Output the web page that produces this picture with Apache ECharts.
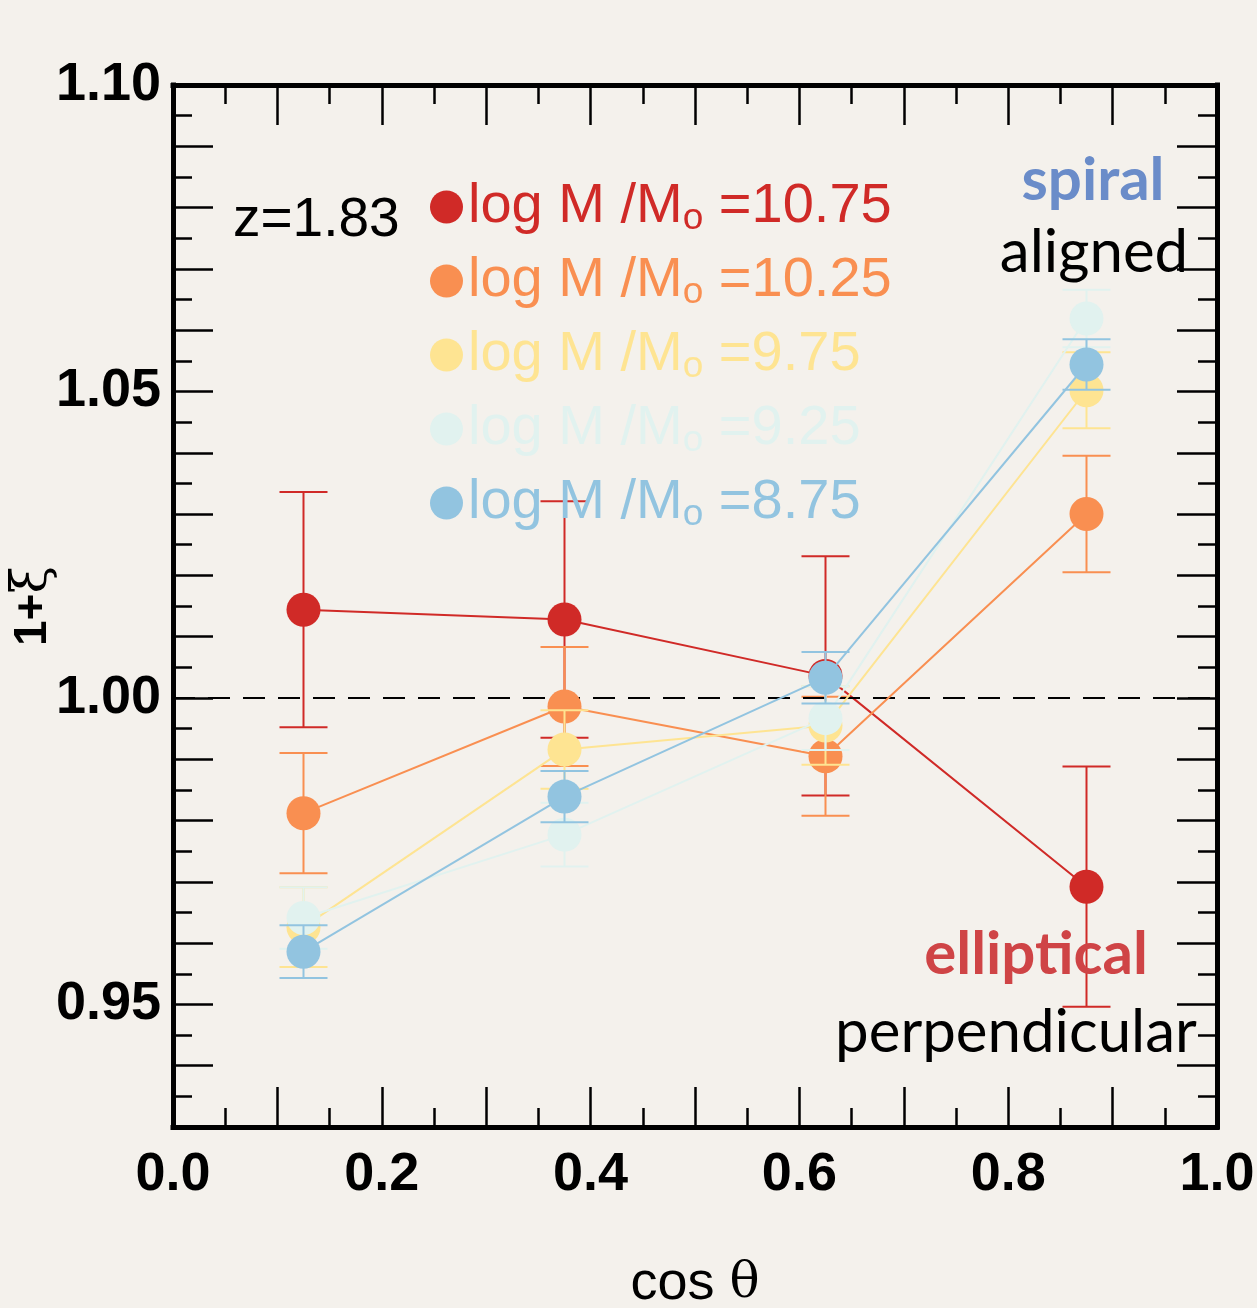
<!DOCTYPE html>
<html>
<head>
<meta charset="utf-8">
<script src="https://cdn.jsdelivr.net/npm/echarts@6/dist/echarts.min.js"></script>
<style>
  html, body { margin: 0; padding: 0; background: #f4f1ec; }
  #chart { width: 1257px; height: 1308px; }
</style>
</head>
<body>
<div id="chart"></div>
<script>
// cos(theta) bin centres
const cosTheta = [0.125, 0.375, 0.625, 0.875];

// stellar-mass bins (log M / M_sun)
const massBins = ['10.75', '10.25', '9.75', '9.25', '8.75'];

// 1 + xi per mass bin, with symmetric 1-sigma errors
const xi_1075 = [1.0144, 1.0128, 1.0036, 0.9692];
const err_1075 = [0.0192, 0.0193, 0.0195, 0.0196];
const xi_1025 = [0.9812, 0.9986, 0.9905, 1.0300];
const err_1025 = [0.0098, 0.0097, 0.0097, 0.0095];
const xi_975 = [0.9626, 0.9916, 0.9955, 1.0502];
const err_975 = [0.0065, 0.0064, 0.0064, 0.0062];
const xi_925 = [0.9641, 0.9777, 0.9967, 1.0619];
const err_925 = [0.0050, 0.0052, 0.0052, 0.0047];
const xi_875 = [0.9586, 0.9839, 1.0033, 1.0544];
const err_875 = [0.0043, 0.0042, 0.0042, 0.0041];

const xiSets = [xi_1075, xi_1025, xi_975, xi_925, xi_875];
const errSets = [err_1075, err_1025, err_975, err_925, err_875];
const colors = ['#d02a27', '#f98f51', '#fee492', '#e1f2ef', '#92c4e0'];

// axis ticks
const xMin = 0, xMax = 1, xStep = 0.1;
const yMin = 0.93, yMax = 1.10, yStep = 0.01;
const xLabelEvery = 0.2, yLabelEvery = 0.05;

const FONT_SANS = '"Liberation Sans", Arial, Helvetica, sans-serif';
const FONT_NOTE = 'Lato, "Open Sans", sans-serif';

const chart = echarts.init(document.getElementById('chart'), null, { renderer: 'canvas' });

function onStep(v, step) {
  const r = v / step;
  return Math.abs(r - Math.round(r)) < 1e-6;
}

function axisCommon(extra) {
  return Object.assign({
    type: 'value',
    axisLine: { show: true, onZero: false, lineStyle: { color: '#000', width: 5, cap: 'square' } },
    axisTick: { show: true, inside: true, length: 40, lineStyle: { color: '#000', width: 2.5 } },
    minorTick: { show: true, splitNumber: 2, length: 19, lineStyle: { color: '#000', width: 2.5 } },
    splitLine: { show: false },
    minorSplitLine: { show: false }
  }, extra);
}

const series = [];
massBins.forEach((bin, i) => {
  const name = 'log M /Mo =' + bin;
  const color = colors[i];
  // error bars
  series.push({
    type: 'custom',
    name: name + ' err',
    z: 2 + i * 2,
    silent: true,
    data: cosTheta.map((c, k) => [c, xiSets[i][k], errSets[i][k]]),
    renderItem: function (params, api) {
      const x = api.value(0), y = api.value(1), e = api.value(2);
      const top = api.coord([x, y + e]);
      const bot = api.coord([x, y - e]);
      const hw = 24;
      const st = { stroke: color, lineWidth: 2 };
      return {
        type: 'group',
        children: [
          { type: 'line', shape: { x1: top[0], y1: top[1], x2: bot[0], y2: bot[1] }, style: st },
          { type: 'line', shape: { x1: top[0] - hw, y1: top[1], x2: top[0] + hw, y2: top[1] }, style: st },
          { type: 'line', shape: { x1: bot[0] - hw, y1: bot[1], x2: bot[0] + hw, y2: bot[1] }, style: st }
        ]
      };
    }
  });
  // points + connecting line
  const s = {
    type: 'line',
    name: name,
    z: 3 + i * 2,
    data: cosTheta.map((c, k) => [c, xiSets[i][k]]),
    symbol: 'circle',
    symbolSize: 34,
    showAllSymbol: true,
    itemStyle: { color: color },
    lineStyle: { color: color, width: 2 },
    emphasis: { disabled: true },
    animation: false
  };
  if (i === 0) {
    s.markLine = {
      silent: true,
      symbol: 'none',
      label: { show: false },
      lineStyle: { color: '#000', width: 2, type: [22, 13] },
      data: [{ yAxis: 1.0 }]
    };
  }
  series.push(s);
});

const option = {
  backgroundColor: '#f4f1ec',
  animation: false,
  grid: { left: 173, right: 40, top: 85, bottom: 181, containLabel: false, outerBoundsMode: 'none' },
  legend: {
    orient: 'vertical',
    left: 430,
    top: 179,
    padding: 0,
    icon: 'circle',
    itemWidth: 33,
    itemHeight: 33,
    itemGap: 16,
    selectedMode: false,
    data: massBins.map((b, i) => ({ name: 'log M /Mo =' + b, textStyle: { color: colors[i] } })),
    formatter: function (n) {
      return '{a|log M /M}{s|o}{a| =' + n.split('=')[1] + '}';
    },
    textStyle: {
      fontFamily: FONT_SANS,
      fontSize: 56,
      padding: [0, 0, 0, 0],
      rich: {
        a: { fontFamily: FONT_SANS, fontSize: 56, lineHeight: 60 },
        s: { fontFamily: FONT_SANS, fontSize: 37, lineHeight: 36, verticalAlign: 'bottom' }
      }
    }
  },
  xAxis: [
    axisCommon({
      position: 'bottom', min: xMin, max: xMax, interval: xStep,
      name: '{a|cos }{b|θ}', nameLocation: 'middle', nameGap: 130, nameMoveOverlap: false,
      nameTextStyle: {
        rich: {
          a: { fontFamily: FONT_SANS, fontSize: 54, color: '#000' },
          b: { fontFamily: '"DejaVu Serif", serif', fontSize: 50, color: '#000' }
        }
      },
      axisLabel: {
        show: true, margin: 21, color: '#000', fontFamily: FONT_SANS, fontWeight: 'bold', fontSize: 54,
        formatter: v => onStep(v, xLabelEvery) ? v.toFixed(1) : ''
      }
    }),
    axisCommon({
      position: 'top', min: xMin, max: xMax, interval: xStep,
      axisLabel: { show: false }
    })
  ],
  yAxis: [
    axisCommon({
      position: 'left', min: yMin, max: yMax, interval: yStep,
      name: '{a|1+}{b|ξ}', nameLocation: 'middle', nameGap: 115, nameRotate: 90, nameMoveOverlap: false,
      nameTextStyle: {
        rich: {
          a: { fontFamily: FONT_SANS, fontWeight: 'bold', fontSize: 46, color: '#000' },
          b: { fontFamily: '"DejaVu Serif", serif', fontSize: 50, color: '#000' }
        }
      },
      axisLabel: {
        show: true, margin: 12, color: '#000', fontFamily: FONT_SANS, fontWeight: 'bold', fontSize: 54,
        formatter: v => onStep(v, yLabelEvery) ? v.toFixed(2) : ''
      }
    }),
    axisCommon({
      position: 'right', min: yMin, max: yMax, interval: yStep,
      axisLabel: { show: false }
    })
  ],
  graphic: [
    { type: 'text', z: 100, style: { x: 233, y: 221, text: 'z=1.83', fill: '#000', font: '55px ' + FONT_SANS, textAlign: 'left', textVerticalAlign: 'middle' } },
    { type: 'text', z: 100, style: { x: 1093, y: 181, text: 'spiral', fill: '#6a8cc9', font: 'bold 60px ' + FONT_NOTE, textAlign: 'center', textVerticalAlign: 'middle' } },
    { type: 'text', z: 100, style: { x: 1094, y: 253, text: 'aligned', fill: '#000', font: '60px ' + FONT_NOTE, textAlign: 'center', textVerticalAlign: 'middle' } },
    { type: 'text', z: 100, style: { x: 1036, y: 955, text: 'elliptical', fill: '#cf4446', font: 'bold 60px ' + FONT_NOTE, textAlign: 'center', textVerticalAlign: 'middle' } },
    { type: 'text', z: 100, style: { x: 1016, y: 1033, text: 'perpendicular', fill: '#000', font: '60px ' + FONT_NOTE, textAlign: 'center', textVerticalAlign: 'middle' } }
  ],
  series: series
};

chart.setOption(option);
</script>
</body>
</html>
